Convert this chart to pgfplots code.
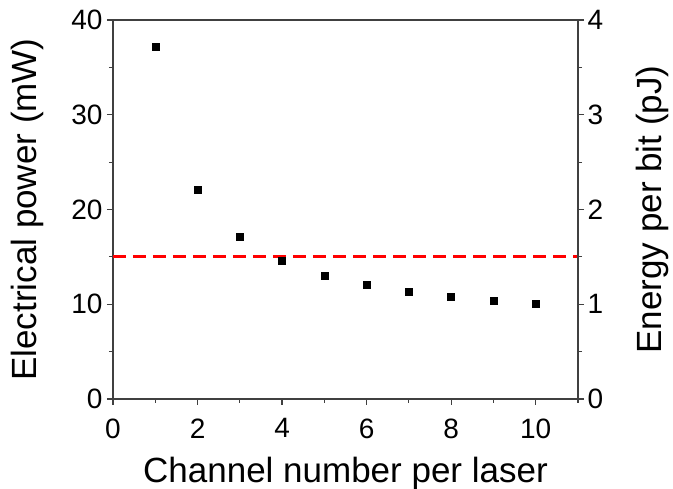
\documentclass[border=0pt]{standalone}
\usepackage{pgfplots}
\pgfplotsset{compat=1.18}
\usepackage{fontspec}
\setmainfont{Liberation Sans}
\definecolor{axgray}{HTML}{404040}
\begin{document}
\begin{tikzpicture}
\pgfplotsset{
  common/.style={
    scale only axis,
    at={(0pt,0pt)}, anchor=south west,
    width=465pt, height=379pt,
    xmin=0, xmax=11,
    tick align=outside,
    axis line style={axgray, line width=1.3pt},
    major tick style={axgray, line width=1.3pt},
    minor tick style={axgray, line width=1.1pt},
    major tick length=6pt,
    minor tick length=4pt,
    ticklabel style={font=\fontsize{28}{28}\selectfont},
    label style={font=\fontsize{35}{35}\selectfont},
    /pgf/number format/assume math mode=true,
  }
}
\useasboundingbox (-113pt,-90pt) rectangle (560pt,399pt);
\begin{axis}[
  common,
  xtick={0,2,...,10},
  minor xtick={1,3,...,11},
  xtick pos=bottom,
  ymin=0, ymax=40,
  ytick={0,10,...,40},
  minor ytick={5,15,...,35},
  ytick pos=left,
  xlabel={Channel number per laser},
  ylabel={Electrical power (mW)},
  xticklabel style={yshift=-10pt},
  yticklabel style={xshift=-1pt},
  xlabel style={inner sep=1pt, yshift=-14pt},
  ylabel style={yshift=21pt},
]
\addplot[only marks, mark=square*, mark size=3.5pt, color=black]
  coordinates {(1,37.15) (2,22.1) (3,17.1) (4,14.55) (5,13.05) (6,12.05) (7,11.3) (8,10.8) (9,10.38) (10,10.03)};
\addplot[red, dashed, line width=3pt, dash pattern=on 13pt off 7pt]
  coordinates {(0,15) (11,15)};
\end{axis}
\begin{axis}[
  common,
  axis x line=none,
  axis y line*=right,
  ymin=0, ymax=4,
  ytick={0,1,...,4},
  minor ytick={0.5,1.5,...,3.5},
  ylabel={Energy per bit (pJ)},
  ylabel style={yshift=-26pt},
]
\end{axis}
\end{tikzpicture}
\end{document}
